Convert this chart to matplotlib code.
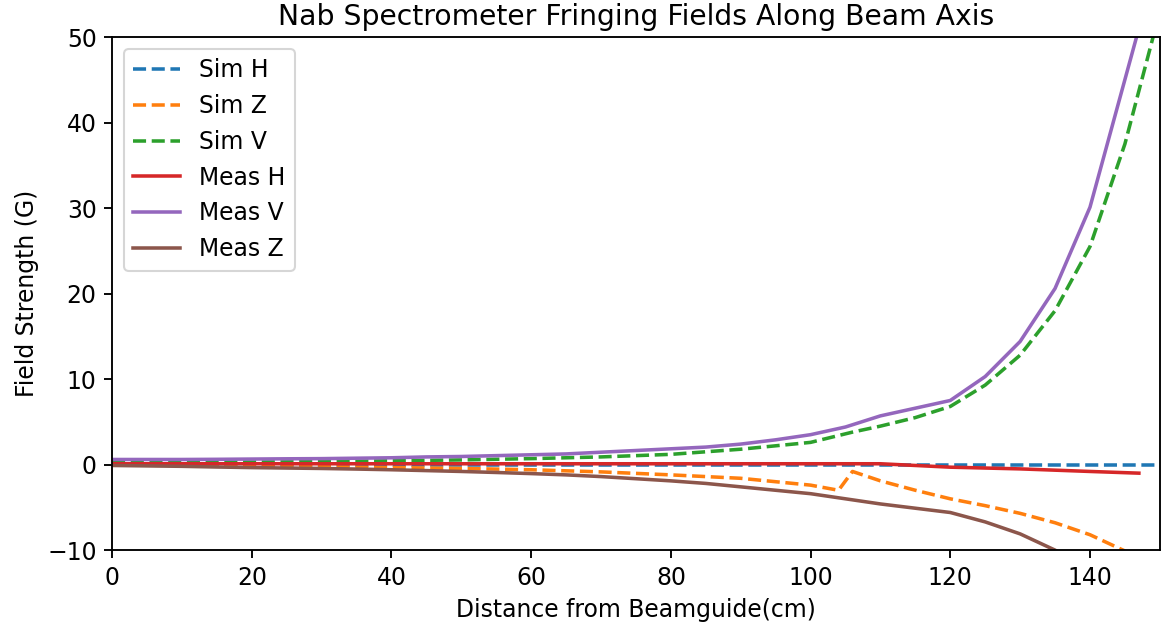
import matplotlib
matplotlib.use("Agg")
import matplotlib.pyplot as plt

# ── Simulated fields (cm, G) ───────────────────────────────────────────────────
sim_x = [0, 10, 20, 30, 40, 50, 60, 70, 80, 90, 95, 100, 104, 106, 110,
         115, 120, 125, 130, 135, 140, 145, 150]
sim_h = [0.0] * len(sim_x)
sim_z = [-0.05, -0.1, -0.15, -0.25, -0.35, -0.45, -0.6, -0.85, -1.2, -1.6,
         -2.0, -2.4, -3.0, -0.8, -1.9, -3.0, -4.0, -4.8, -5.7, -6.8,
         -8.2, -10.1, -12.5]
sim_v = [0.25, 0.28, 0.3, 0.35, 0.45, 0.55, 0.7, 0.9, 1.2, 1.8, 2.2, 2.6,
         3.4, 3.8, 4.5, 5.5, 6.8, 9.3, 12.8, 18.0, 25.5, 37.5, 53.0]

# ── Measured fields ────────────────────────────────────────────────────────────
meas_x = [0, 5, 10, 15, 20, 25, 30, 35, 40, 45, 50, 55, 60, 65, 70, 75,
          80, 85, 90, 95, 100, 105, 110, 115, 120, 125, 130, 135, 140, 147]
meas_h = [0.1] * 23 + [-0.1, -0.3, -0.4, -0.5, -0.65, -0.8, -1.0]
meas_v = [0.6, 0.6, 0.6, 0.62, 0.65, 0.68, 0.7, 0.75, 0.8, 0.9, 0.95,
          1.05, 1.15, 1.25, 1.45, 1.65, 1.85, 2.05, 2.4, 2.9, 3.5, 4.4,
          5.7, 6.6, 7.5, 10.3, 14.4, 20.6, 30.1, 51.0]
meas_z = [-0.1, -0.15, -0.2, -0.28, -0.35, -0.4, -0.45, -0.52, -0.6,
          -0.7, -0.8, -0.92, -1.05, -1.2, -1.4, -1.65, -1.9, -2.2, -2.6,
          -3.0, -3.4, -4.0, -4.6, -5.1, -5.6, -6.7, -8.1, -10.0, -12.5,
          -17.0]

S = 1.13  # overall scale of the original rendering
plt.rcParams.update({
    "font.size": 10 * S,
    "lines.linewidth": 1.5 * S,
    "axes.linewidth": 0.8 * S,
    "xtick.major.size": 3.5 * S,
    "ytick.major.size": 3.5 * S,
    "xtick.major.width": 0.8 * S,
    "ytick.major.width": 0.8 * S,
})

fig, ax = plt.subplots(figsize=(7.74, 4.1867), dpi=150)
fig.subplots_adjust(left=0.0965, right=0.999, top=0.941, bottom=0.124)

ax.plot(sim_x, sim_h, "--", label="Sim H")
ax.plot(sim_x, sim_z, "--", label="Sim Z")
ax.plot(sim_x, sim_v, "--", label="Sim V")
ax.plot(meas_x, meas_h, label="Meas H")
ax.plot(meas_x, meas_v, label="Meas V")
ax.plot(meas_x, meas_z, label="Meas Z")

ax.set_xlim(0, 150)
ax.set_ylim(-10, 50)
ax.set_title("Nab Spectrometer Fringing Fields Along Beam Axis", fontsize=12 * S)
ax.set_xlabel("Distance from Beamguide(cm)")
ax.set_ylabel("Field Strength (G)")
ax.legend(loc="upper left")

plt.savefig("out.png", dpi=150)
